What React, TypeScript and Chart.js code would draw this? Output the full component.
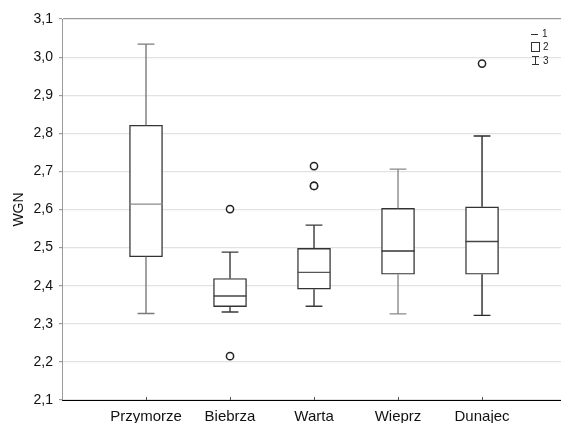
import React, { useEffect, useRef } from "react";
import { Chart, registerables } from "chart.js";

Chart.register(...registerables);

const categories = ["Przymorze", "Biebrza", "Warta", "Wieprz", "Dunajec"];
const whiskerLow = [2.327, 2.331, 2.346, 2.326, 2.322];
const q1 = [2.476, 2.345, 2.391, 2.43, 2.43];
const median = [2.614, 2.373, 2.435, 2.491, 2.516];
const q3 = [2.821, 2.419, 2.498, 2.603, 2.607];
const whiskerHigh = [3.034, 2.488, 2.559, 2.706, 2.793];
const outliers: number[][] = [[], [2.601, 2.215], [2.714, 2.662, 2.662], [], [2.983]];
const whiskerColors = ["#7a7a7a", "#3a3a3a", "#3a3a3a", "#8a8a8a", "#2a2a2a"];
const medianColors = ["#8a8a8a", "#444444", "#555555", "#333333", "#444444"];
const legendLabels = ["1", "2", "3"];

const CAP = 0.1;
const HALF_BOX = 0.197;

const fmt = (v: number) => v.toFixed(1).replace(".", ",");

export default function App() {
  const ref = useRef<HTMLCanvasElement>(null);
  useEffect(() => {
    if (!ref.current) return;
    const gap = (x: number) => ({ x, y: null as any });
    const whiskerSets = categories.map((_, i) => ({
      type: "line" as const,
      order: 0,
      data: [
        { x: i, y: q3[i] }, { x: i, y: whiskerHigh[i] }, gap(i),
        { x: i - CAP, y: whiskerHigh[i] }, { x: i + CAP, y: whiskerHigh[i] }, gap(i),
        { x: i, y: q1[i] }, { x: i, y: whiskerLow[i] }, gap(i),
        { x: i - CAP, y: whiskerLow[i] }, { x: i + CAP, y: whiskerLow[i] },
      ],
      borderColor: whiskerColors[i],
      borderWidth: 1.4,
      pointRadius: 0,
      spanGaps: false,
      fill: false,
    }));
    const medianSets = categories.map((_, i) => ({
      type: "line" as const,
      order: 0,
      data: [{ x: i - HALF_BOX, y: median[i] }, { x: i + HALF_BOX, y: median[i] }],
      borderColor: medianColors[i],
      borderWidth: 1.4,
      pointRadius: 0,
      fill: false,
    }));
    const outlierPts: { x: number; y: number }[] = [];
    outliers.forEach((arr, i) => arr.forEach((v) => outlierPts.push({ x: i, y: v })));

    const extras = {
      id: "extras",
      afterDraw(chart: any) {
        const c = chart.ctx;
        const xs = chart.scales.x;
        const area = chart.chartArea;
        c.save();
        c.strokeStyle = "#555";
        c.lineWidth = 1;
        categories.forEach((_, i) => {
          const px = Math.round(xs.getPixelForValue(i)) + 0.5;
          c.beginPath();
          c.moveTo(px, area.bottom);
          c.lineTo(px, area.bottom - 3);
          c.stroke();
        });
        // legend
        const lx = 531;
        c.strokeStyle = "#333";
        c.lineWidth = 1;
        c.beginPath();
        c.moveTo(lx, 34.5);
        c.lineTo(lx + 7, 34.5);
        c.stroke();
        c.strokeRect(lx + 0.5, 42.5, 8, 9);
        c.beginPath();
        c.moveTo(lx + 4.5, 56);
        c.lineTo(lx + 4.5, 65);
        c.moveTo(lx + 1, 56.5);
        c.lineTo(lx + 8, 56.5);
        c.moveTo(lx + 1, 64.5);
        c.lineTo(lx + 8, 64.5);
        c.stroke();
        c.fillStyle = "#222";
        c.font = "10px 'Liberation Sans', Arial, sans-serif";
        c.textBaseline = "middle";
        c.textAlign = "left";
        c.fillText(legendLabels[0], lx + 11, 34);
        c.fillText(legendLabels[1], lx + 12, 47);
        c.fillText(legendLabels[2], lx + 12, 61);
        c.restore();
      },
    };

    Chart.defaults.font.family = "'Liberation Sans', Arial, sans-serif";
    const chart = new Chart(ref.current, {
      type: "bar",
      data: {
        datasets: [
          {
            type: "scatter" as const,
            order: 0,
            data: outlierPts,
            pointRadius: 3.6,
            pointBorderWidth: 1.5,
            pointBackgroundColor: "#fff",
            pointBorderColor: "#222",
            showLine: false,
          } as any,
          ...medianSets,
          ...whiskerSets,
          {
            type: "bar" as const,
            order: 10,
            data: categories.map((_, i) => ({ x: i, y: [q1[i], q3[i]] })),
            backgroundColor: "#ffffff",
            borderColor: "#333333",
            borderWidth: 1.4,
            borderSkipped: false,
            barThickness: 33,
          } as any,
        ],
      },
      options: {
        animation: false,
        responsive: false,
        layout: { autoPadding: false, padding: { top: 19, right: 0, left: 0, bottom: 0 } },
        plugins: { legend: { display: false }, tooltip: { enabled: false } },
        scales: {
          x: {
            type: "linear",
            offset: false,
            min: -1,
            max: 4.94,
            grid: { display: false },
            border: { display: true, color: "#000", width: 1 },
            afterBuildTicks: (s: any) => {
              s.ticks = categories.map((_, i) => ({ value: i }));
            },
            afterFit: (s: any) => {
              s.height = 23;
              s.paddingLeft = 0;
              s.paddingRight = 0;
            },
            ticks: {
              autoSkip: false,
              maxRotation: 0,
              padding: 0,
              color: "#111",
              font: { size: 15 },
              callback: (v: any) => categories[Math.round(Number(v))] ?? "",
            },
          },
          y: {
            min: 2.1,
            max: 3.1,
            afterFit: (s: any) => {
              s.width = 62;
            },
            grid: {
              color: (ctx: any) =>
                Math.abs(ctx.tick?.value - 3.1) < 1e-6 ? "#9a9a9a" : "#e2e2e2",
              drawTicks: true,
              tickLength: 3,
              tickColor: "#9a9a9a",
              lineWidth: 1.2,
            },
            border: { display: true, color: "#9a9a9a" },
            ticks: {
              stepSize: 0.1,
              padding: 6,
              color: "#111",
              font: { size: 14 },
              callback: (v: any) => fmt(Number(v)),
            },
            title: {
              display: true,
              text: "WGN",
              color: "#111",
              font: { size: 14 },
              padding: { top: 11, bottom: 0 },
            },
          },
        },
      },
      plugins: [extras],
    });
    return () => chart.destroy();
  }, []);
  return (
    <div style={{ position: "fixed", left: 0, top: 0, width: 561, height: 423, background: "#fff" }}>
      <canvas ref={ref} width={561} height={423} />
    </div>
  );
}
